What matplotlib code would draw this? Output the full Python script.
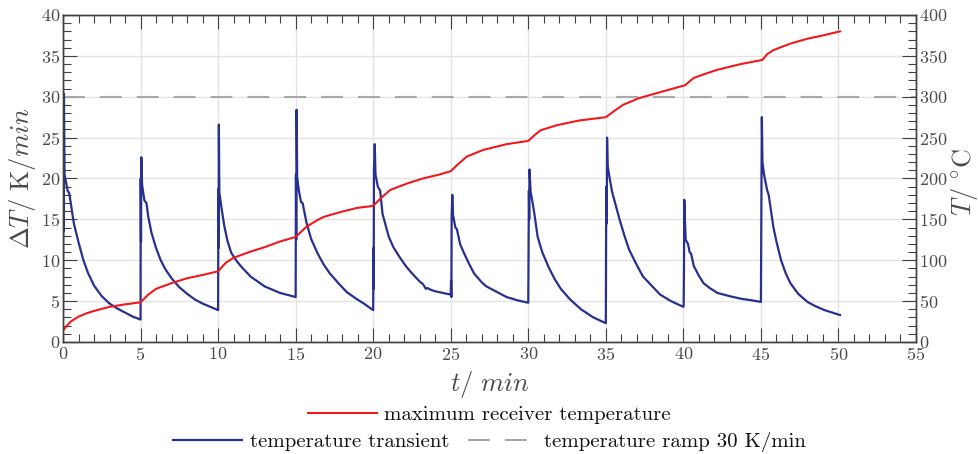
import matplotlib
matplotlib.use("Agg")
import matplotlib.pyplot as plt
from matplotlib.ticker import MultipleLocator

plt.rcParams['font.family'] = 'serif'
plt.rcParams['font.serif'] = ['cmr10', 'DejaVu Serif']
plt.rcParams['mathtext.fontset'] = 'cm'
plt.rcParams['axes.unicode_minus'] = False
plt.rcParams['axes.formatter.use_mathtext'] = True

# temperature transient dT/dt in K/min (left axis)
t_transient = [
    0.0, 0.02, 0.04, 0.06, 0.1, 0.2, 0.3, 0.4, 0.5, 0.7, 1.0, 1.3, 1.6, 2.0, 2.5, 3.0, 3.5, 4.0, 4.5, 5.0,
    5.01, 5.03, 5.05, 5.1, 5.25, 5.38, 5.5, 5.7, 6.0, 6.3, 6.6, 7.0, 7.5, 8.0, 8.5, 9.0, 9.5, 10.0,
    10.02, 10.03, 10.05, 10.08, 10.15, 10.22, 10.4, 10.6, 10.85, 11.2, 11.5, 12.1, 13.0, 14.0, 15.0,
    15.02, 15.04, 15.06, 15.1, 15.2, 15.35, 15.45, 15.7, 16.0, 16.4, 16.8, 17.2, 17.8, 18.3, 18.9, 19.4, 20.0,
    20.02, 20.03, 20.05, 20.1, 20.15, 20.3, 20.45, 20.6, 21.0, 21.3, 21.7, 22.1, 22.5, 23.0, 23.2, 23.3, 23.4,
    23.5, 23.7, 24.0, 24.5, 25.0,
    25.02, 25.04, 25.06, 25.1, 25.15, 25.3, 25.4, 25.6, 25.85, 26.2, 26.5, 27.0, 27.3, 28.0, 28.6, 29.3, 30.0,
    30.02, 30.04, 30.06, 30.08, 30.15, 30.3, 30.4, 30.6, 30.9, 31.3, 31.7, 32.1, 32.7, 33.4, 34.2, 35.0,
    35.02, 35.04, 35.06, 35.08, 35.12, 35.25, 35.4, 35.9, 36.2, 36.5, 37.0, 37.4, 38.0, 38.5, 39.2, 40.0,
    40.02, 40.04, 40.06, 40.1, 40.15, 40.3, 40.4, 40.5, 40.67, 41.0, 41.3, 41.7, 42.2, 43.0, 43.7, 44.4, 45.0,
    45.02, 45.04, 45.06, 45.1, 45.2, 45.4, 45.5, 45.8, 46.0, 46.3, 46.6, 46.9, 47.4, 48.0, 48.5, 49.1, 49.6, 50.1,
]
dT_transient = [
    4.2, 21.8, 13.5, 30.4, 20.5, 19.5, 18.5, 18.2, 17.0, 14.5, 12.2, 10.1, 8.5, 6.9, 5.6, 4.7, 4.1, 3.6, 3.1, 2.75,
    20.0, 12.3, 22.6, 19.2, 17.3, 17.0, 15.3, 13.4, 11.5, 10.0, 8.9, 7.8, 6.7, 5.9, 5.2, 4.7, 4.3, 3.9,
    18.7, 11.5, 26.6, 18.3, 17.3, 16.4, 14.2, 12.4, 10.9, 9.9, 9.2, 8.0, 6.8, 6.0, 5.5,
    20.5, 12.5, 28.4, 20.2, 18.6, 17.1, 17.0, 14.6, 12.6, 10.9, 9.5, 8.4, 7.1, 6.1, 5.3, 4.7, 3.9,
    11.5, 6.5, 21.0, 24.2, 20.5, 19.0, 18.5, 15.7, 12.9, 11.6, 10.4, 9.3, 8.4, 7.4, 7.1, 6.8, 6.5,
    6.6, 6.4, 6.2, 6.0, 5.8,
    7.5, 5.5, 15.3, 18.0, 15.5, 14.0, 13.8, 12.0, 10.9, 9.5, 8.4, 7.3, 6.8, 6.1, 5.5, 5.1, 4.8,
    11.0, 18.5, 15.0, 21.1, 18.4, 16.8, 15.6, 12.9, 11.0, 9.2, 7.7, 6.5, 5.2, 4.0, 3.0, 2.3,
    14.0, 19.0, 14.5, 25.0, 21.5, 20.0, 18.4, 14.9, 13.0, 11.3, 9.4, 8.0, 6.8, 5.8, 5.0, 4.3,
    4.5, 9.5, 17.4, 15.0, 12.5, 12.0, 11.0, 10.8, 9.3, 8.1, 7.2, 6.6, 6.0, 5.6, 5.3, 5.1, 4.9,
    13.5, 20.5, 27.5, 22.0, 20.5, 18.6, 18.0, 14.1, 12.3, 10.0, 8.4, 7.2, 5.9, 4.9, 4.4, 3.9, 3.6, 3.3,
]

# maximum receiver temperature in degC (right axis)
t_receiver = [
    0, 0.25, 0.5, 1, 1.5, 2, 3, 4, 5,
    5.5, 6, 7, 8, 9, 10,
    10.5, 11, 12, 13, 14, 15,
    15.7, 16.3, 16.8, 17.9, 18.95, 20,
    20.5, 21.1, 22.2, 23.2, 24.3, 25,
    25.5, 26.05, 27.1, 28.6, 30,
    30.4, 30.8, 31.8, 33.3, 35,
    35.5, 36.1, 37.1, 38.2, 40.1,
    40.67, 41.4, 42.2, 43.7, 45.1,
    45.4, 45.8, 46.9, 48, 49, 50.1,
]
T_receiver = [
    14, 20, 25, 31, 35, 38, 43, 46, 48.6,
    58, 65, 72, 78, 82, 86.5,
    97, 103, 110, 116, 123, 128.5,
    141, 148, 153, 159, 164, 166.5,
    176, 186, 194, 200, 205, 209,
    218, 227, 235, 242, 246,
    253, 259, 265, 271, 275,
    282, 290, 298, 304, 314,
    323, 328, 333, 340, 345,
    352, 357, 365, 371, 375, 380,
]

ramp_rate = 30

label_color = '#4a4a4a'
spine_color = '#404040'

fig = plt.figure(figsize=(9.79, 4.54), dpi=100)
ax = fig.add_axes([63 / 979, 1 - 342 / 454, 853 / 979, 327 / 454])
ax2 = ax.twinx()

ramp_line = ax.axhline(ramp_rate, color='#a8a8a8', lw=1.5, dashes=[10.5, 7.2])
blue_line, = ax.plot(t_transient, dT_transient, color='#28308f', lw=1.6)
red_line, = ax2.plot(t_receiver, T_receiver, color='#f0191e', lw=1.5)

ax.set_xlim(0, 55)
ax.set_ylim(0, 40)
ax2.set_ylim(0, 400)
ax.xaxis.set_major_locator(MultipleLocator(5))
ax.xaxis.set_minor_locator(MultipleLocator(1))
ax.yaxis.set_major_locator(MultipleLocator(5))
ax.yaxis.set_minor_locator(MultipleLocator(1))
ax2.yaxis.set_major_locator(MultipleLocator(50))
ax2.yaxis.set_minor_locator(MultipleLocator(10))

ax.grid(True, which='major', color='#e3e3e3', lw=1)
ax.set_axisbelow(True)

for a in (ax, ax2):
    for sp in a.spines.values():
        sp.set_color(spine_color)
        sp.set_linewidth(1)

ax.tick_params(which='both', direction='in', top=True, right=False, colors=spine_color,
               labelcolor=label_color, labelsize=13, width=0.8)
ax.tick_params(which='major', length=10)
ax.tick_params(which='minor', length=6)
ax2.tick_params(which='both', direction='in', colors=spine_color,
                labelcolor=label_color, labelsize=13, width=0.8)
ax2.tick_params(which='major', length=10)
ax2.tick_params(which='minor', length=6)
ax.tick_params(axis='x', pad=3)
ax.tick_params(axis='y', pad=2)
ax2.tick_params(axis='y', pad=2)

ax.set_xlabel(r'$t/\ min$', fontsize=19, color=label_color, labelpad=4)
ax.set_ylabel(r'$\Delta T/\ \mathrm{K}/min$', fontsize=19, color=label_color)
ax2.set_ylabel(r'$T/\ ^{\circ}\mathrm{C}$', fontsize=19, color=label_color)
for lab in (ax.yaxis.label, ax2.yaxis.label):
    lab.set_verticalalignment('center')
    lab.set_horizontalalignment('center')
ax.yaxis.set_label_coords((22 - 63) / 853, 0.5)
ax2.yaxis.set_label_coords((965 - 63) / 853, 0.49)

leg_kw = dict(frameon=False, fontsize=15, handlelength=3.3, handletextpad=0.35,
              columnspacing=0.9, borderpad=0, borderaxespad=0, labelcolor='#111111')
leg1 = fig.legend([red_line], ['maximum receiver temperature'], loc='center',
                  bbox_to_anchor=(489.5 / 979, 1 - 415 / 454), **leg_kw)
leg2 = fig.legend([blue_line, ramp_line], ['temperature transient', 'temperature ramp 30 K/min'],
                  loc='center', ncol=2, bbox_to_anchor=(489.5 / 979, 1 - 442 / 454), **leg_kw)

fig.savefig('out.png', dpi=100)
